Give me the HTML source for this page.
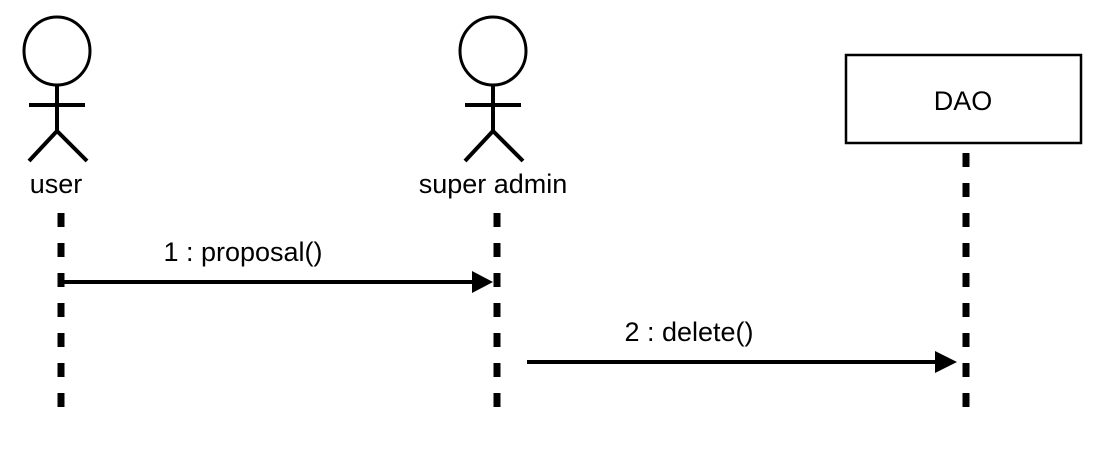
<!DOCTYPE html>
<html><head><meta charset="utf-8"><style>
html,body{margin:0;padding:0;background:#fff;}
svg{display:block;}
text{font-family:"Liberation Sans",Arial,sans-serif;fill:#000;}
</style></head><body>
<svg width="1108" height="460" viewBox="0 0 1108 460" xmlns="http://www.w3.org/2000/svg">
<g fill="none" stroke="#000">
 <ellipse cx="57" cy="51" rx="33" ry="34" stroke-width="3"/>
 <line x1="57" y1="85" x2="57" y2="131" stroke-width="4"/>
 <line x1="29" y1="105" x2="85" y2="105" stroke-width="4"/>
 <polyline points="29,161 57,131 87,161" stroke-width="4"/>
 <ellipse cx="493" cy="51" rx="33" ry="34" stroke-width="3"/>
 <line x1="493" y1="85" x2="493" y2="131" stroke-width="4"/>
 <line x1="465" y1="105" x2="521" y2="105" stroke-width="4"/>
 <polyline points="465,161 493,131 523,161" stroke-width="4"/>
 <rect x="846" y="55" width="235" height="88" stroke-width="2.5"/>
 <line x1="61" y1="213" x2="61" y2="408" stroke-width="7" stroke-dasharray="14,16"/>
 <line x1="497" y1="213" x2="497" y2="408" stroke-width="7" stroke-dasharray="14,16"/>
 <line x1="966" y1="153" x2="966" y2="408" stroke-width="7" stroke-dasharray="14,16"/>
 <line x1="61" y1="282" x2="475" y2="282" stroke-width="4"/>
 <line x1="527" y1="362" x2="938" y2="362" stroke-width="4"/>
</g>
<polygon points="472,271 493,282 472,293" fill="#000"/>
<polygon points="935,351 957,362 935,373" fill="#000"/>
<text x="56" y="193" font-size="27" text-anchor="middle">user</text>
<text x="493" y="193" font-size="27" text-anchor="middle">super admin</text>
<text x="963" y="110" font-size="27" text-anchor="middle">DAO</text>
<text x="243" y="261" font-size="27" text-anchor="middle">1 : proposal()</text>
<text x="689" y="341" font-size="27" text-anchor="middle">2 : delete()</text>
</svg>
</body></html>
